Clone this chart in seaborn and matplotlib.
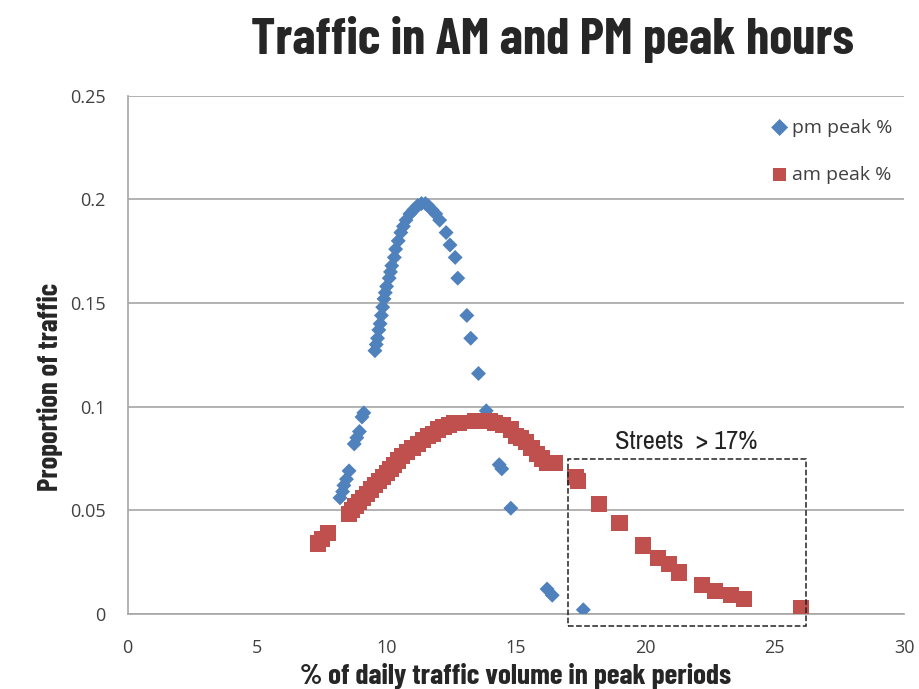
import matplotlib
matplotlib.use("Agg")
import matplotlib.pyplot as plt
import seaborn as sns
import pandas as pd
from matplotlib.patches import Rectangle

# pm peak % (blue diamonds)
pm_x = [8.2, 8.3, 8.35, 8.45, 8.55, 8.75, 8.85, 8.95, 9.05, 9.12,
        9.55, 9.6, 9.65, 9.7, 9.75, 9.8, 9.85, 9.9, 9.95, 10.0,
        10.1, 10.15, 10.2, 10.3, 10.35, 10.45, 10.55, 10.65, 10.75, 10.9,
        11.05, 11.2, 11.35, 11.5, 11.6, 11.75, 11.9, 12.05, 12.3, 12.45,
        12.65, 12.75, 13.1, 13.25, 13.55, 13.85, 14.35, 14.45, 14.8, 16.2,
        16.4, 17.6]
pm_y = [0.056, 0.059, 0.062, 0.065, 0.069, 0.082, 0.085, 0.088, 0.095, 0.097,
        0.127, 0.130, 0.133, 0.137, 0.140, 0.144, 0.148, 0.152, 0.155, 0.158,
        0.162, 0.165, 0.168, 0.172, 0.176, 0.180, 0.184, 0.187, 0.190, 0.193,
        0.195, 0.197, 0.198, 0.198, 0.197, 0.195, 0.193, 0.190, 0.184, 0.178,
        0.172, 0.162, 0.144, 0.133, 0.116, 0.098, 0.072, 0.070, 0.051, 0.012,
        0.009, 0.002]

# am peak % (red squares)
am_x = [7.35, 7.5, 7.75, 8.55, 8.65, 8.8, 8.95, 9.1, 9.25, 9.4,
        9.55, 9.7, 9.85, 10.0, 10.15, 10.3, 10.45, 10.6, 10.8, 11.0,
        11.2, 11.4, 11.6, 11.8, 12.0, 12.2, 12.4, 12.6, 12.8, 13.4,
        13.6, 13.8, 14.0, 14.2, 14.5, 14.8, 15.0, 15.2, 15.4, 15.6,
        15.8, 16.0, 16.2, 16.5, 17.3, 17.4, 18.2, 19.0, 19.9, 20.5,
        20.9, 21.3, 22.2, 22.7, 23.3, 23.8, 26.0]
am_y = [0.034, 0.036, 0.039, 0.048, 0.050, 0.052, 0.054, 0.056, 0.058, 0.060,
        0.062, 0.064, 0.066, 0.068, 0.070, 0.072, 0.074, 0.076, 0.078, 0.080,
        0.082, 0.084, 0.086, 0.087, 0.089, 0.090, 0.091, 0.092, 0.092, 0.093,
        0.093, 0.093, 0.093, 0.092, 0.091, 0.089, 0.086, 0.085, 0.083, 0.080,
        0.077, 0.075, 0.073, 0.073, 0.066, 0.064, 0.053, 0.044, 0.033, 0.027,
        0.024, 0.020, 0.014, 0.011, 0.009, 0.007, 0.003]

x_ticks = [0, 5, 10, 15, 20, 25, 30]
y_ticks = [0, 0.05, 0.1, 0.15, 0.2, 0.25]
y_labels = ["0", "0.05", "0.1", "0.15", "0.2", "0.25"]

pm = pd.DataFrame({"x": pm_x, "y": pm_y})
am = pd.DataFrame({"x": am_x, "y": am_y})

sns.set_style("white")
plt.rcParams["font.family"] = ["Open Sans", "DejaVu Sans"]
bold_font = ["Barlow Condensed", "DejaVu Sans"]
narrow_font = ["Archivo Narrow", "DejaVu Sans"]

fig = plt.figure(figsize=(9.19, 6.89), dpi=100)
ax = fig.add_axes([0.139, 0.109, 0.845, 0.752])

sns.scatterplot(data=pm, x="x", y="y", marker="D", s=58, color="#4F81BD",
                edgecolor="none", label="pm peak %", ax=ax, zorder=3)
sns.scatterplot(data=am, x="x", y="y", marker="s", s=135, color="#C0504D",
                edgecolor="none", label="am peak %", ax=ax, zorder=4)

ax.set_xlim(0, 30)
ax.set_ylim(0, 0.25)
ax.set_xticks(x_ticks)
ax.set_yticks(y_ticks)
ax.set_yticklabels(y_labels)
ax.yaxis.grid(True, color="#a6a6a6", lw=1.2)
ax.set_axisbelow(True)
for s in ["top", "right"]:
    ax.spines[s].set_visible(False)
for s in ["left", "bottom"]:
    ax.spines[s].set_color("#a6a6a6")
    ax.spines[s].set_linewidth(1.2)
ax.tick_params(axis="y", length=4, color="#a6a6a6", labelsize=13,
               labelcolor="#404040", pad=12)
ax.tick_params(axis="x", length=0, labelsize=13, labelcolor="#404040", pad=18)

ax.set_xlabel("% of daily traffic volume in peak periods", family=bold_font,
              weight="bold", fontsize=21, labelpad=4)
ax.set_ylabel("Proportion of traffic", family=bold_font, weight="bold",
              fontsize=20.5)
ax.yaxis.set_label_coords(-0.084, 0.438)
fig.text(0.601, 0.943, "Traffic in AM and PM peak hours", family=bold_font,
         weight="bold", fontsize=37.5, ha="center", va="center")

# box around streets above 17%
box = Rectangle((17.0, -0.006), 9.2, 0.0807, fill=False, ls="--",
                lw=1.1, ec="#222222", clip_on=False, zorder=5)
ax.add_patch(box)
ax.text(21.57, 0.0834, "Streets  > 17%", family=narrow_font, fontsize=19,
        ha="center", va="center", color="#222222")

leg = ax.legend(loc="upper right", bbox_to_anchor=(0.985, 0.956), frameon=False,
                fontsize=14, handletextpad=0.15, handlelength=1.0,
                labelspacing=1.5, borderaxespad=0, borderpad=0)
leg.legend_handles[0].set_sizes([75])
leg.legend_handles[1].set_sizes([88])
for t in leg.get_texts():
    t.set_color("#404040")

fig.savefig("out.png", dpi=100)
